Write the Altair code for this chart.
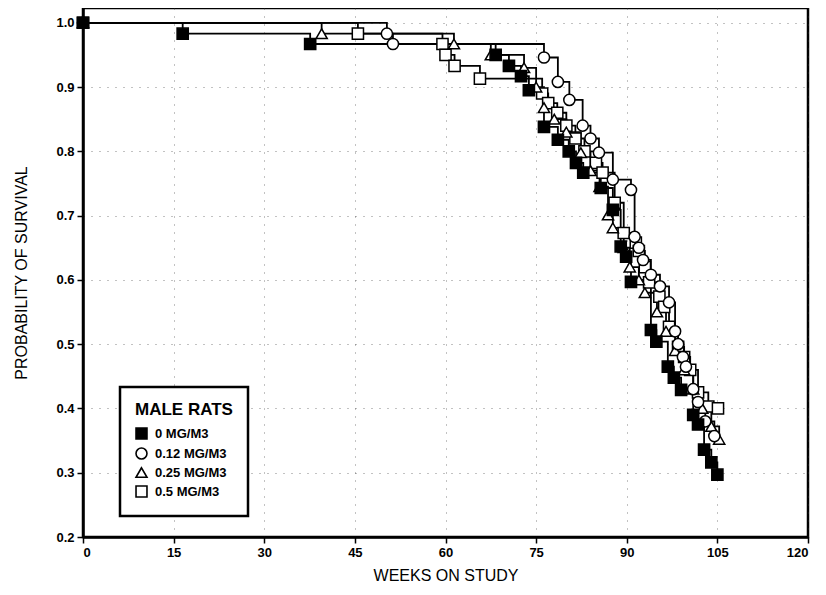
import altair as alt
import pandas as pd

# ---- data (weeks, survival probability) ----
doses = ["0 MG/M3", "0.12 MG/M3", "0.25 MG/M3", "0.5 MG/M3"]

w0 = [0, 16.5, 37.6, 68.3, 70.5, 72.5, 73.8, 76.3, 78.6, 80.4, 81.6, 82.8, 85.7, 87.7,
      89.0, 89.9, 90.7, 94.0, 94.9, 96.8, 97.8, 99.0, 101.0, 101.8, 102.8, 104.0, 105.0]
s0 = [1.0, 0.983, 0.967, 0.95, 0.933, 0.917, 0.895, 0.838, 0.818, 0.80, 0.782, 0.767, 0.743, 0.709,
      0.652, 0.636, 0.597, 0.522, 0.504, 0.465, 0.448, 0.429, 0.39, 0.375, 0.336, 0.316, 0.297]

w1 = [0, 50.3, 51.3, 76.3, 78.6, 80.5, 82.7, 84.0, 85.4, 87.7, 90.7, 91.3, 92.0, 92.7, 94.0,
      95.5, 97.0, 98.0, 98.5, 99.3, 99.8, 101.0, 101.8, 103.0, 104.5]
s1 = [1.0, 0.983, 0.967, 0.946, 0.908, 0.88, 0.84, 0.82, 0.798, 0.756, 0.74, 0.667, 0.65, 0.631, 0.608,
      0.59, 0.565, 0.52, 0.50, 0.48, 0.465, 0.43, 0.41, 0.38, 0.357]

w2 = [0, 39.5, 61.4, 67.5, 73.0, 75.0, 76.3, 78.0, 80.0, 82.4, 84.0, 85.5, 86.9, 87.7, 89.5,
      90.5, 92.0, 93.0, 95.0, 96.5, 98.0, 99.5, 101.0, 102.5, 104.0, 105.3]
s2 = [1.0, 0.983, 0.967, 0.95, 0.93, 0.90, 0.868, 0.85, 0.83, 0.798, 0.77, 0.745, 0.701, 0.681, 0.65,
      0.62, 0.60, 0.58, 0.55, 0.52, 0.49, 0.46, 0.43, 0.40, 0.372, 0.352]

w3 = [0, 45.5, 59.5, 60.0, 61.5, 65.7, 76.0, 77.0, 78.5, 80.0, 81.5, 83.0, 84.9, 86.0, 88.0,
      89.5, 91.5, 92.0, 93.0, 93.7, 95.4, 96.2, 97.0, 98.5, 99.5, 100.5, 101.8, 103.5, 105.1]
s3 = [1.0, 0.983, 0.967, 0.95, 0.933, 0.913, 0.89, 0.875, 0.86, 0.84, 0.82, 0.80, 0.782, 0.767, 0.72,
      0.673, 0.658, 0.645, 0.62, 0.596, 0.574, 0.558, 0.527, 0.496, 0.48, 0.46, 0.425, 0.403, 0.40]

x_ticks = [0, 15, 30, 45, 60, 75, 90, 105, 120]
y_ticks = [0.2, 0.3, 0.4, 0.5, 0.6, 0.7, 0.8, 0.9, 1.0]

rows = []
# draw order: open symbols first, filled squares last (on top)
for dose, ws, ss, rank in [(doses[3], w3, s3, 0), (doses[2], w2, s2, 1),
                           (doses[1], w1, s1, 2), (doses[0], w0, s0, 3)]:
    for i, (w, s) in enumerate(zip(ws, ss)):
        rows.append({"week": w, "surv": s, "dose": dose, "rank": rank, "idx": i})
df = pd.DataFrame(rows)

FONT = "Liberation Sans"

x = alt.X("week:Q", scale=alt.Scale(domain=[0, 120], nice=False),
          axis=alt.Axis(values=x_ticks, title="WEEKS ON STUDY", format="d"))
y = alt.Y("surv:Q", scale=alt.Scale(domain=[0.2, 1.023], nice=False, zero=False),
          axis=alt.Axis(values=y_ticks, title="PROBABILITY OF SURVIVAL", format=".1f"))

lines = alt.Chart(df).mark_line(interpolate="step-after", color="black", strokeWidth=1.8).encode(
    x=x, y=y, detail="dose:N", order="idx:Q"
)

shape_scale = alt.Scale(domain=doses, range=["square", "circle", "triangle-up", "square"])
fill_scale = alt.Scale(domain=doses, range=["black", "white", "white", "white"])
stroke_scale = alt.Scale(domain=doses, range=["black", "black", "black", "black"])
leg = alt.Legend(title="MALE RATS", symbolStrokeWidth=1.6, symbolSize=120)

points = alt.Chart(df).mark_point(filled=True, size=125, strokeWidth=1.5, opacity=1).encode(
    x=x, y=y,
    shape=alt.Shape("dose:N", scale=shape_scale, legend=leg),
    fill=alt.Fill("dose:N", scale=fill_scale, legend=leg),
    stroke=alt.Stroke("dose:N", scale=stroke_scale, legend=leg),
    order="rank:Q",
)

chart = (lines + points).properties(
    width=725, height=529,
    autosize=alt.AutoSizeParams(type="none"),
    padding={"left": 75, "top": 0, "right": 10, "bottom": 50},
).configure_view(
    stroke="black", strokeWidth=2.5
).configure_axis(
    domainColor="black", domainWidth=2.5,
    tickColor="black", tickWidth=1.5, tickSize=6,
    labelFont=FONT, labelFontSize=13, labelFontWeight="bold", labelColor="black",
    titleFont=FONT, titleFontSize=16, titleFontWeight="normal", titleColor="black",
    grid=True, gridColor="#333333", gridDash=[1, 7], gridWidth=1, gridOpacity=0.6,
).configure_axisY(
    titlePadding=26, labelPadding=3
).configure_axisX(
    titlePadding=8, labelPadding=3
).configure_legend(
    orient="none", legendX=37, legendY=379,
    strokeColor="black", strokeWidth=2.5, fillColor="white",
    padding=15, rowPadding=1, labelLimit=200, labelOffset=7,
    titleFont=FONT, titleFontSize=17, titleFontWeight="bold", titleColor="black", titlePadding=8,
    labelFont=FONT, labelFontSize=13, labelFontWeight="bold", labelColor="black",
    symbolStrokeColor="black", symbolOffset=0,
)

chart.save("out.html", embed_options={"renderer": "svg", "actions": False})
